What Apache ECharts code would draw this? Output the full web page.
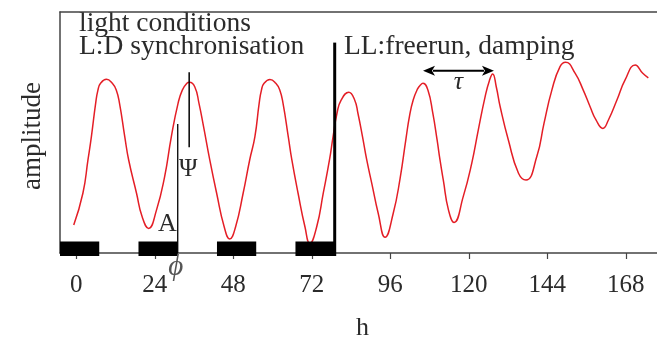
<!DOCTYPE html>
<html>
<head>
<meta charset="utf-8">
<script src="https://cdn.jsdelivr.net/npm/echarts@6/dist/echarts.min.js"></script>
<style>
html,body{margin:0;padding:0;background:#fff;}
#chart{width:657px;height:338px;}
</style>
</head>
<body>
<div id="chart"></div>
<script>
// ---- data ----
const tickHours = [0, 24, 48, 72, 96, 120, 144, 168];
const tickLabels = ['0', '24', '48', '72', '96', '120', '144', '168'];

const hours = [
  -0.8, 2.0, 3.55, 4.6, 5.9, 6.6, 7.4, 9.2, 11.0, 12.2, 13.2, 14.8, 16.0, 18.4, 20.1, 22.1,
  24.5, 27.0, 29.05, 31.1, 32.4, 33.8, 34.6, 36.2, 37.5, 38.9, 40.8, 42.9, 45.2, 46.9,
  48.7, 51.0, 53.0, 54.6, 55.9, 56.6, 57.4, 59.2, 61.0, 62.2, 63.2, 64.8, 65.9, 67.8, 69.9, 71.4,
  73.5, 75.5, 77.4, 78.5, 79.7, 81.0, 83.3, 85.1, 86.1, 87.5, 88.8, 90.4, 92.3, 94.4,
  96.9, 99.0, 100.8, 101.9, 103.0, 104.3, 105.2, 106.0, 107.5, 109.0, 110.3, 111.2, 112.2, 113.8, 115.5,
  118.3, 120.9, 122.9, 125.0, 126.3, 127.3, 128.4, 129.6, 132.1, 135.2, 137.5,
  140.8, 143.0, 145.4, 147.9, 149.6, 152.5, 155.0, 157.1, 158.9, 161.0,
  162.7, 165.3, 167.8, 170.9, 173.2, 174.9
];
const amplitude = [
  1.16, 2.48, 3.86, 4.83, 6.21, 6.76, 7.04, 7.21, 7.04, 6.76, 6.21, 4.83, 3.86, 2.48, 1.51, 1.02,
  1.78, 3.17, 4.83, 6.21, 6.76, 7.04, 7.08, 6.90, 6.21, 5.24, 3.86, 2.48, 1.09, 0.58,
  1.09, 2.48, 3.86, 4.83, 6.21, 6.76, 7.04, 7.20, 7.04, 6.76, 6.21, 4.83, 3.86, 2.48, 1.09, 0.40,
  1.09, 2.48, 3.86, 4.83, 5.80, 6.35, 6.67, 6.35, 5.80, 4.83, 3.86, 2.85, 1.65, 0.65,
  1.65, 3.10, 4.75, 5.70, 6.35, 6.80, 6.97, 7.04, 6.76, 5.80, 4.70, 3.86, 3.03, 1.78, 1.27,
  2.34, 3.72, 5.10, 6.49, 7.15, 7.43, 6.90, 6.07, 4.69, 3.31, 3.03,
  4.00, 5.38, 6.76, 7.73, 7.91, 7.46, 6.76, 6.07, 5.52, 5.17,
  5.52, 6.35, 7.18, 7.80, 7.46, 7.27
];

// dark phases (start h, end h)
const darkPeriods = [[-5, 7], [19, 31], [43, 55], [67, 79]];

// annotations (h, amplitude values)
const boundaryLine = [79, 8.73];          // LD -> LL switch
const phaseLine = [31, 5.35];             // phase reference (phi)
const psiLine = [34.5, 4.39, 7.5];        // Psi marker at peak
const tauArrow = [106, 127.7, 7.56];      // period arrow

const headerTexts = ['light conditions', 'L:D synchronisation', 'LL:freerun, damping'];
const yName = 'amplitude';
const xName = 'h';

// ---- chart ----
const chart = echarts.init(document.getElementById('chart'), null, {renderer: 'canvas'});
const FONT = '"Liberation Serif", "Times New Roman", serif';
const TXT = '#2b2b2b';
const AX = '#444';

function renderBars(params, api) {
  const s = darkPeriods[params.dataIndex];
  const p0 = api.coord([s[0], 0]);
  const p1 = api.coord([s[1], 0]);
  return {
    type: 'rect',
    shape: {x: p0[0], y: p0[1] - 11.5, width: p1[0] - p0[0], height: 14.5},
    style: {fill: '#000'}
  };
}

function renderAnnot(params, api) {
  const c = api.coord;
  const bTop = c([boundaryLine[0], boundaryLine[1]]);
  const bBot = c([boundaryLine[0], 0]);
  const phTop = c([phaseLine[0], phaseLine[1]]);
  const phBot = c([phaseLine[0], 0]);
  const psB = c([psiLine[0], psiLine[1]]);
  const psT = c([psiLine[0], psiLine[2]]);
  const tL = c([tauArrow[0], tauArrow[2]]);
  const tR = c([tauArrow[1], tauArrow[2]]);
  const ah = 12, aw = 5;
  const children = [
    {type: 'line', shape: {x1: bTop[0], y1: bTop[1], x2: bBot[0], y2: bBot[1] + 3}, style: {stroke: '#000', lineWidth: 3}},
    {type: 'line', shape: {x1: phTop[0], y1: phTop[1], x2: phBot[0], y2: phBot[1]}, style: {stroke: '#000', lineWidth: 1.3}},
    {type: 'line', shape: {x1: psB[0], y1: psB[1], x2: psT[0], y2: psT[1]}, style: {stroke: '#000', lineWidth: 1.5}},
    {type: 'line', shape: {x1: tL[0] + ah - 2, y1: tL[1], x2: tR[0] - ah + 2, y2: tR[1]}, style: {stroke: '#000', lineWidth: 2}},
    {type: 'polygon', shape: {points: [[tL[0], tL[1]], [tL[0] + ah, tL[1] - aw], [tL[0] + ah - 3, tL[1]], [tL[0] + ah, tL[1] + aw]]}, style: {fill: '#000'}},
    {type: 'polygon', shape: {points: [[tR[0], tR[1]], [tR[0] - ah, tR[1] - aw], [tR[0] - ah + 3, tR[1]], [tR[0] - ah, tR[1] + aw]]}, style: {fill: '#000'}},
    {type: 'text', x: phBot[0] - 1, y: phBot[1] - 29, style: {text: 'A', font: '26px ' + FONT, fill: TXT, align: 'right', verticalAlign: 'middle'}},
    {type: 'text', x: psB[0] - 1, y: psB[1] + 22, style: {text: 'Ψ', font: '25px ' + FONT, fill: TXT, align: 'center', verticalAlign: 'middle'}},
    {type: 'text', x: phBot[0] - 2, y: phBot[1] + 14, style: {text: 'ϕ', font: 'italic 29px ' + FONT, fill: '#555', align: 'center', verticalAlign: 'middle'}},
    {type: 'text', x: (tL[0] + tR[0]) / 2, y: tL[1] + 11, style: {text: 'τ', font: 'italic 26px ' + FONT, fill: TXT, align: 'center', verticalAlign: 'middle'}}
  ];
  return {type: 'group', children: children};
}

const option = {
  animation: false,
  backgroundColor: '#fff',
  grid: {left: 60, right: -8, top: 12, bottom: 85, outerBoundsMode: 'none', containLabel: false},
  xAxis: [{
    type: 'value', min: -5, max: 180,
    axisLine: {show: true, onZero: false, lineStyle: {color: AX, width: 1.5}},
    axisTick: {show: true, length: 6, inside: false, customValues: tickHours, lineStyle: {color: AX, width: 1.2}},
    axisLabel: {show: true, customValues: tickHours, margin: 20, fontFamily: FONT, fontSize: 25, color: TXT,
      formatter: function (v) { const i = tickHours.indexOf(v); return i >= 0 ? tickLabels[i] : ''; }},
    splitLine: {show: false},
    name: xName, nameLocation: 'middle', nameGap: 62,
    nameTextStyle: {fontFamily: FONT, fontSize: 26, color: TXT}
  }, {
    type: 'value', min: -5, max: 180, position: 'top',
    axisLine: {show: true, onZero: false, lineStyle: {color: AX, width: 1.5}},
    axisTick: {show: false}, axisLabel: {show: false}, splitLine: {show: false}
  }],
  yAxis: {
    type: 'value', min: 0, max: 10,
    axisLine: {show: true, onZero: false, lineStyle: {color: AX, width: 1.5}},
    axisTick: {show: false}, axisLabel: {show: false}, splitLine: {show: false}
  },
  series: [{
    type: 'line',
    data: hours.map((h, i) => [h, amplitude[i]]),
    smooth: 0.5,
    showSymbol: false,
    lineStyle: {color: '#e41e26', width: 1.5},
    z: 3
  }, {
    type: 'custom',
    renderItem: renderBars,
    data: darkPeriods.map((d, i) => [d[0], d[1]]),
    clip: false,
    z: 4
  }, {
    type: 'custom',
    renderItem: renderAnnot,
    data: [[0, 0]],
    clip: false,
    z: 5
  }],
  graphic: [
    {type: 'text', left: 79, top: 10, style: {text: headerTexts[0], font: '27.5px ' + FONT, fill: TXT}},
    {type: 'text', left: 79, top: 33, style: {text: headerTexts[1], font: '27.5px ' + FONT, fill: TXT}},
    {type: 'text', left: 344, top: 33, style: {text: headerTexts[2], font: '27.5px ' + FONT, fill: TXT}},
    {type: 'text', x: 33, y: 136, rotation: Math.PI / 2, style: {text: yName, font: '27px ' + FONT, fill: TXT, align: 'center', verticalAlign: 'middle'}}
  ]
};
chart.setOption(option);
</script>
</body>
</html>
